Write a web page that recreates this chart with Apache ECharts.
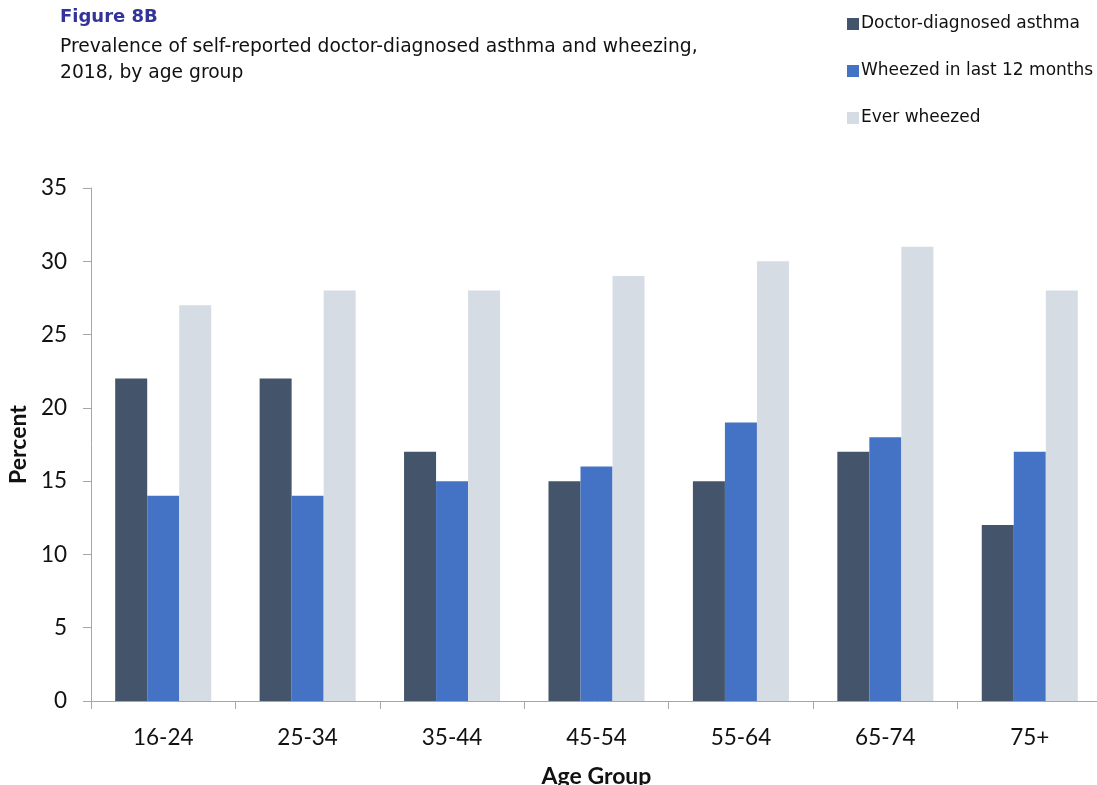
<!DOCTYPE html>
<html>
<head>
<meta charset="utf-8">
<script src="https://cdn.jsdelivr.net/npm/echarts@6/dist/echarts.min.js"></script>
<style>html,body{margin:0;padding:0;background:#fff;}#c{width:1097px;height:785px;}</style>
</head>
<body>
<div id="c"></div>
<script>
const categories = ['16-24','25-34','35-44','45-54','55-64','65-74','75+'];
const doctorDiagnosed = [22, 22, 17, 15, 15, 17, 12];
const wheezed12 = [14, 14, 15, 16, 19, 18, 17];
const everWheezed = [27, 28, 28, 29, 30, 31, 28];
const seriesNames = ['Doctor-diagnosed asthma', 'Wheezed in last 12 months', 'Ever wheezed'];
const colors = ['#44546A', '#4472C4', '#D6DCE4'];

const chart = echarts.init(document.getElementById('c'));
const axisFont = 'Lato, "Open Sans", sans-serif';
const titleFont = '"DejaVu Sans", sans-serif';
chart.setOption({
  animation: false,
  backgroundColor: '#fff',
  title: [
    { text: 'Figure 8B', left: 55, top: 3,
      textStyle: { fontFamily: titleFont, fontSize: 18, fontWeight: 'bold', color: '#333399' } },
    { text: 'Prevalence of self-reported doctor-diagnosed asthma and wheezing,\n2018, by age group', left: 55, top: 29,
      textStyle: { fontFamily: titleFont, fontSize: 18.7, fontWeight: 'normal', color: '#111', lineHeight: 26 } }
  ],
  legend: {
    orient: 'vertical', left: 842, top: 9, itemGap: 27,
    itemWidth: 12, itemHeight: 12, icon: 'rect',
    textStyle: { fontFamily: titleFont, fontSize: 17, color: '#111', padding: [0,0,0,-3], lineHeight: 20 },
    data: seriesNames
  },
  grid: { left: 91, top: 188, width: 1011, height: 513, containLabel: false, outerBoundsMode: 'none' },
  xAxis: {
    type: 'category', data: categories,
    axisLine: { lineStyle: { color: '#A6A6A6', width: 1 } },
    axisTick: { show: true, length: 8, lineStyle: { color: '#A6A6A6' } },
    axisLabel: { fontFamily: axisFont, fontSize: 22.5, color: '#111', margin: 25 },
    name: 'Age Group', nameLocation: 'middle', nameGap: 64,
    nameTextStyle: { fontFamily: axisFont, fontSize: 23, fontWeight: 'bold', color: '#111' }
  },
  yAxis: {
    type: 'value', min: 0, max: 35, interval: 5,
    axisLine: { show: true, lineStyle: { color: '#A6A6A6', width: 1 } },
    axisTick: { show: true, length: 8, lineStyle: { color: '#A6A6A6' } },
    splitLine: { show: false },
    axisLabel: { fontFamily: axisFont, fontSize: 22.5, color: '#111', margin: 24 },
    name: 'Percent', nameLocation: 'middle', nameGap: 58, nameRotate: 90,
    nameTextStyle: { fontFamily: axisFont, fontSize: 23, fontWeight: 'bold', color: '#111' }
  },
  series: [
    { name: seriesNames[0], type: 'bar', data: doctorDiagnosed, itemStyle: { color: colors[0] }, barGap: '0%', barCategoryGap: '33.5%' },
    { name: seriesNames[1], type: 'bar', data: wheezed12, itemStyle: { color: colors[1] }, barGap: '0%', barCategoryGap: '33.5%' },
    { name: seriesNames[2], type: 'bar', data: everWheezed, itemStyle: { color: colors[2] }, barGap: '0%', barCategoryGap: '33.5%' }
  ]
});
</script>
</body>
</html>
